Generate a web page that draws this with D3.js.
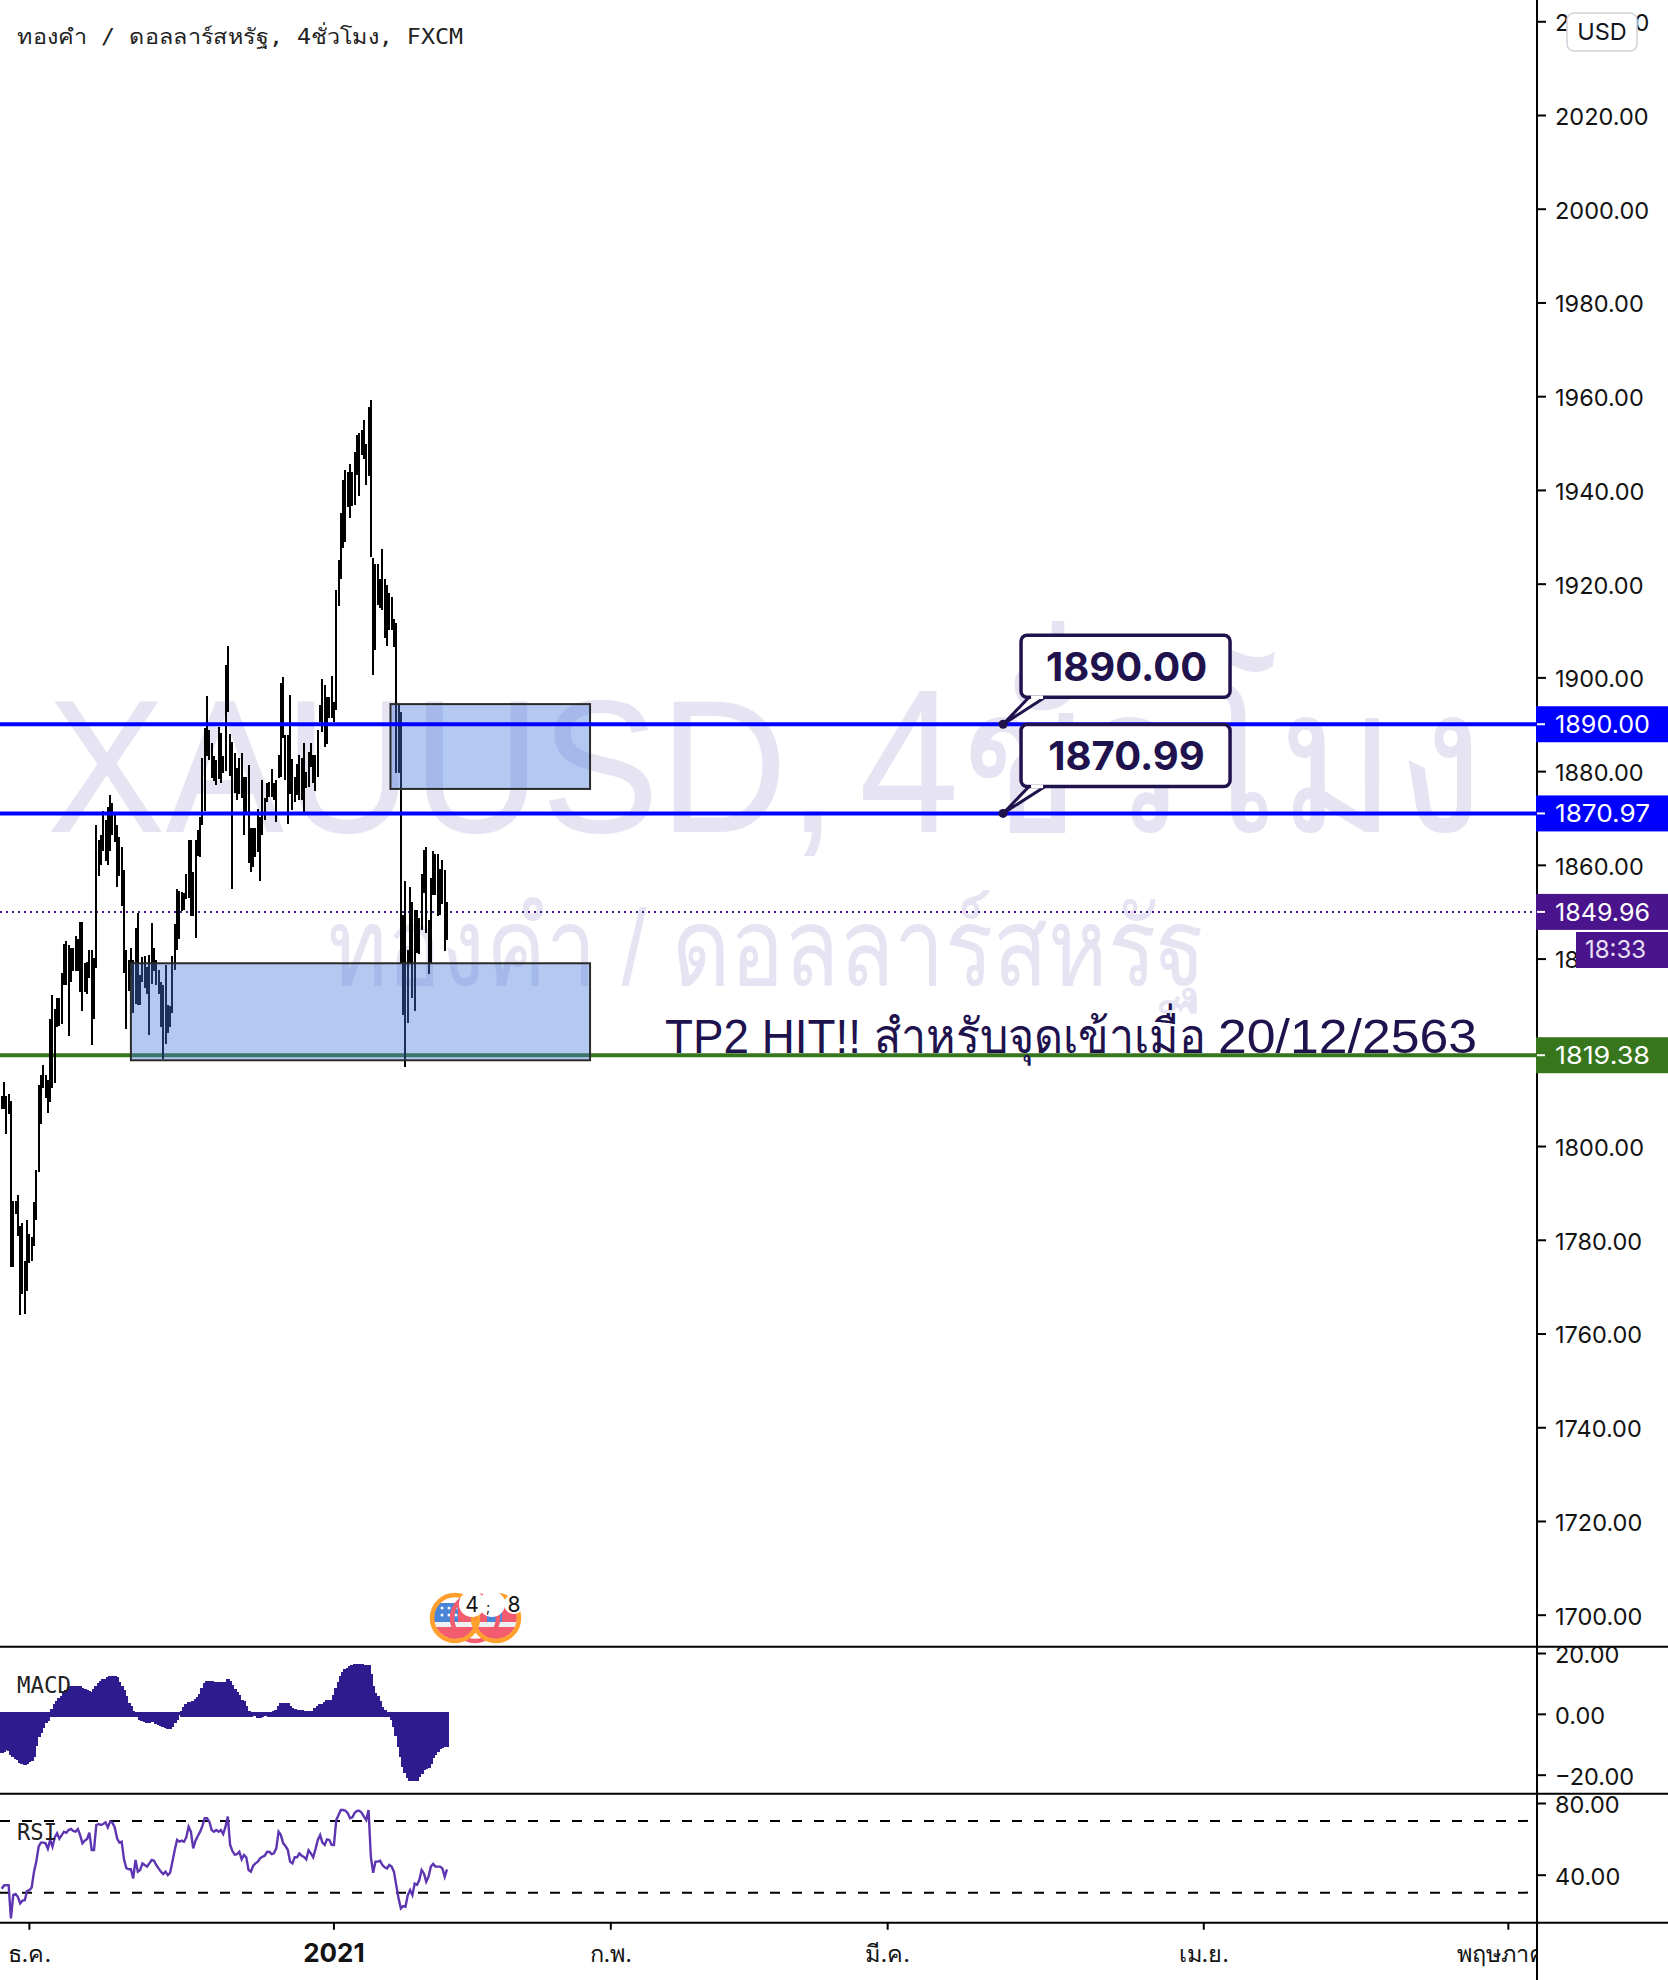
<!DOCTYPE html>
<html>
<head>
<meta charset="utf-8">
<script src="https://cdn.jsdelivr.net/npm/d3@7"></script>
<style>
html, body { margin: 0; padding: 0; background: #fff; }
svg { display: block; }
</style>
</head>
<body>
<div id="chart"></div>
<script>
// bar extents, the bodies are not legible at this density
var barHigh = [1810.6,1813.6,1810.6,1811.2,1809.6,1788.3,1788.2,1789.6,1783.0,1783.5,1775.4,1784.2,1781.3,1780.5,1788.0,1794.9,1813.1,1815.1,1817.2,1815.1,
  1814.0,1827.1,1832.2,1829.3,1831.6,1831.6,1837.0,1843.2,1843.7,1843.0,1842.2,1842.3,1844.8,1844.1,1847.7,1847.9,1839.0,1839.2,1841.9,1841.9,
  1840.1,1868.4,1865.4,1866.3,1871.5,1869.5,1872.4,1875.0,1873.2,1870.6,1868.4,1866.0,1863.9,1859.0,1841.9,1839.6,1842.3,1839.6,1846.6,1849.8,
  1836.5,1840.3,1840.5,1838.3,1840.8,1847.5,1842.3,1839.6,1837.6,1834.9,1834.3,1838.7,1830.0,1829.8,1840.6,1847.3,1854.9,1854.5,1854.2,1854.0,
  1858.1,1865.3,1865.3,1858.5,1865.3,1867.5,1870.2,1882.8,1889.1,1896.1,1888.8,1885.9,1883.2,1882.3,1889.5,1888.2,1883.2,1902.6,1906.7,1888.0,
  1886.3,1883.8,1880.6,1882.7,1883.9,1878.8,1878.8,1881.3,1867.8,1867.8,1867.8,1872.0,1870.3,1878.2,1874.2,1877.4,1877.7,1880.4,1877.4,1878.1,
  1883.4,1898.7,1900.0,1887.7,1887.8,1896.2,1882.5,1878.8,1881.6,1883.4,1882.7,1886.1,1879.9,1884.0,1885.9,1883.4,1883.4,1888.8,1894.1,1899.6,
  1898.4,1895.9,1895.9,1900.3,1894.8,1918.6,1925.0,1935.0,1942.1,1944.2,1943.9,1945.5,1943.9,1948.0,1951.8,1952.2,1952.8,1955.0,1949.9,1957.7,
  1959.2,1925.4,1924.3,1924.3,1920.9,1927.5,1920.9,1919.7,1917.9,1917.2,1912.4,1911.5,1894.4,1892.7,1849.3,1856.5,1841.8,1855.3,1852.1,1850.4,
  1850.4,1848.6,1858.0,1863.2,1863.9,1848.2,1857.1,1863.0,1862.4,1862.4,1859.2,1861.0,1858.9,1852.1];
var barLow = [1807.9,1807.9,1802.5,1806.9,1774.1,1774.1,1785.5,1780.8,1763.9,1768.4,1764.2,1769.1,1775.1,1775.4,1778.6,1784.2,1794.5,1804.7,1812.4,1810.3,
  1807.0,1809.3,1812.4,1813.4,1825.3,1825.7,1826.0,1834.3,1834.3,1823.5,1835.0,1837.4,1837.4,1837.4,1832.9,1828.9,1832.9,1832.5,1835.8,1821.5,
  1827.1,1837.9,1857.6,1859.9,1863.0,1860.9,1859.9,1863.0,1866.3,1864.8,1855.2,1857.6,1851.3,1837.0,1825.0,1833.1,1836.1,1828.4,1830.4,1830.2,
  1830.0,1835.0,1833.8,1832.5,1823.7,1834.5,1837.4,1834.3,1832.5,1825.3,1818.5,1821.7,1824.1,1825.3,1828.4,1837.6,1841.9,1844.1,1850.2,1850.4,
  1852.7,1852.9,1849.1,1849.1,1844.4,1861.8,1861.7,1868.4,1871.5,1883.2,1882.3,1878.6,1877.8,1877.1,1878.3,1877.4,1879.6,1880.1,1892.7,1879.0,
  1854.8,1875.3,1873.8,1875.2,1874.2,1866.4,1871.0,1860.3,1858.5,1859.6,1861.7,1862.8,1856.6,1866.4,1869.6,1873.5,1874.5,1874.5,1873.8,1869.2,
  1878.5,1878.8,1887.0,1878.1,1868.8,1875.2,1871.7,1873.5,1874.9,1873.8,1873.8,1871.3,1876.3,1876.7,1880.9,1877.4,1875.8,1878.8,1890.5,1888.4,
  1885.2,1885.8,1891.3,1891.3,1890.5,1893.0,1915.2,1921.1,1927.7,1928.9,1936.3,1934.1,1936.5,1936.8,1943.2,1938.7,1947.4,1946.5,1941.0,1942.9,
  1925.7,1900.5,1905.8,1915.4,1914.7,1914.4,1908.5,1906.7,1910.1,1910.1,1906.4,1879.5,1879.5,1839.0,1827.9,1816.9,1826.2,1839.0,1831.5,1828.9,
  1841.1,1841.0,1846.1,1853.9,1845.4,1836.7,1839.0,1853.6,1853.6,1849.1,1849.3,1851.6,1841.7,1844.0];

var macdHist = [-12.4,-11.9,-11.3,-11.6,-13.1,-13.7,-14.2,-14.8,-15.7,-16.1,-16.2,-16.0,-15.4,-14.9,-13.7,-10.1,-7.2,-5.7,-4.2,-2.4,
  -1.8,0,1.6,3.1,4.3,5.1,6.0,7.0,7.9,8.7,9.2,9.3,9.3,9.3,9.0,8.4,8.1,7.8,7.6,7.2,
  8.3,9.2,10.0,10.7,11.3,11.6,12.0,12.3,12.3,12.3,12.0,10.4,9.3,7.7,6.0,3.7,2.5,1.1,0.4,-0.5,
  -1.4,-1.9,-2.2,-2.5,-2.4,-2.3,-2.2,-2.7,-3.3,-3.6,-3.9,-4.2,-4.4,-4.5,-3.8,-2.6,-1.4,0,1.1,2.2,
  3.3,3.8,3.9,4.2,4.9,5.7,6.6,8.5,10.1,10.7,10.8,10.7,10.6,10.5,10.4,10.4,10.5,10.6,11.5,10.7,
  9.6,8.3,7.3,6.2,4.6,4.2,2.7,1.1,0.7,0.3,-0.1,-0.9,-1.0,-0.7,-0.1,0.2,0.4,0.7,0.9,1.2,
  2.7,3.5,3.6,3.7,3.5,2.7,2.0,1.5,1.4,1.3,1.2,1.1,1.1,1.1,1.1,1.1,1.8,2.5,3.3,3.4,
  3.8,4.4,4.4,4.4,6.2,8.5,10.4,12.3,13.9,14.8,15.1,15.6,16.0,16.4,16.4,16.4,16.3,16.1,16.0,15.9,
  13.1,9.3,6.9,5.8,4.2,2.4,1.4,0.5,-0.4,-1.5,-3.9,-6.9,-10.4,-13.7,-17.0,-18.9,-20.5,-21.6,-21.7,-21.7,
  -21.7,-20.4,-19.2,-18.0,-17.7,-17.2,-15.9,-13.9,-13.1,-12.0,-11.1,-10.6,-10.5,-10.4];

var rsiValues = [32.2,34.0,34.2,34.2,15.6,28.6,29.2,27.7,24.0,25.5,25.8,31.0,31.4,32.9,41.7,47.3,55.6,57.9,57.9,57.5,
  54.5,59.4,55.6,60.8,63.1,60.1,62.1,64.0,63.4,64.9,65.5,64.4,64.0,65.5,62.1,57.5,59.0,59.9,63.4,53.8,
  53.8,67.7,68.3,67.7,68.3,69.2,66.4,69.6,69.0,66.4,60.3,57.9,58.4,48.6,43.7,43.0,43.0,37.9,48.2,41.7,
  42.6,46.3,45.4,44.5,46.3,48.2,47.8,45.4,43.5,41.7,40.4,41.7,39.8,41.1,47.3,53.8,59.4,58.4,59.0,58.4,
  60.8,66.8,64.0,54.7,59.0,61.6,64.0,67.2,71.5,71.5,69.6,64.9,64.0,64.9,64.0,64.9,62.7,66.8,72.4,56.6,
  53.2,51.2,51.5,52.8,48.6,51.0,49.7,42.6,41.7,45.0,46.3,47.3,49.1,50.0,50.6,52.7,52.8,51.5,51.9,54.7,
  64.0,62.1,57.5,56.0,53.8,47.3,46.3,49.7,49.7,51.9,50.6,49.9,48.6,53.6,51.9,49.7,54.3,59.4,62.1,57.9,
  56.6,59.7,59.4,56.7,56.6,70.5,73.3,76.1,76.1,75.7,74.3,71.5,72.0,74.6,75.6,75.7,74.6,72.4,70.5,76.1,
  50.0,41.1,47.3,47.3,47.8,45.4,44.1,43.5,45.4,44.5,41.7,34.2,26.8,21.2,22.5,22.1,28.6,31.4,28.6,35.1,
  34.4,37.0,42.6,40.7,36.1,38.9,44.5,46.0,44.5,44.5,44.5,43.5,38.9,43.0];

var priceTicks = [2040,2020,2000,1980,1960,1940,1920,1900,1880,1860,1840,1820,1800,1780,1760,1740,1720,1700];
var macdTicks = [20,0,-20];
var rsiTicks = [80,40];
var rsiBands = [70,30];
var monthLabels = ["ธ.ค.","2021","ก.พ.","มี.ค.","เม.ย.","พฤษภาคม"];
var monthBars = [12,144,264,384,521,653];
var priceLevels = [
  {value: 1890, tag: "1890.00", color: "#0000ff"},
  {value: 1870.97, tag: "1870.97", color: "#0000ff"},
  {value: 1849.96, tag: "1849.96", color: "#4a148c"},
  {value: 1819.38, tag: "1819.38", color: "#38761d"}
];
var zones = [
  {bar0: 168.5, bar1: 255, top: 1894.3, bottom: 1876.2},
  {bar0: 56, bar1: 255, top: 1839.0, bottom: 1818.3}
];
var callouts = [
  {bar: 434, value: 1890, text: "1890.00"},
  {bar: 434, value: 1870.97, text: "1870.99"}
];

var width = 1668, height = 1980;
var axisX = 1537;
var uiFont = "Inter, 'Noto Sans', sans-serif";
var thaiFont = "'Liberation Sans', 'Noto Sans', sans-serif";
var monoFont = "'DejaVu Sans Mono', 'Liberation Mono', monospace";
var navy = "#20124d";
var watermark = "#e6e4f2";

var svg = d3.select("#chart").append("svg")
  .attr("width", width)
  .attr("height", height)
  .style("font-family", uiFont);

var x = d3.scaleLinear().domain([0, 193]).range([1.7, 447]);
var y = d3.scaleLinear().domain([1700, 2020]).range([1614.7, 115]);
var yMacd = d3.scaleLinear().domain([-20, 20]).range([1774.7, 1653]);
var yRsi = d3.scaleLinear().domain([40, 80]).range([1874.7, 1803]);

svg.append("defs").append("clipPath").attr("id", "paneClip")
  .append("rect").attr("x", 0).attr("y", 0).attr("width", axisX).attr("height", height);

// watermarks
svg.append("text")
  .text("XAUUSD,")
  .attr("x", 47).attr("y", 832)
  .attr("textLength", 790).attr("lengthAdjust", "spacingAndGlyphs")
  .style("font-family", thaiFont).style("font-size", "190px").style("fill", watermark);
svg.append("text")
  .text("4ชั่วโมง")
  .attr("x", 859).attr("y", 832)
  .attr("textLength", 625).attr("lengthAdjust", "spacingAndGlyphs")
  .style("font-family", thaiFont).style("font-size", "205px").style("fill", watermark);
svg.append("text")
  .text("ทองคำ / ดอลลาร์สหรัฐ")
  .attr("x", 328).attr("y", 985)
  .attr("textLength", 878).attr("lengthAdjust", "spacingAndGlyphs")
  .style("font-family", thaiFont).style("font-size", "108px").style("fill", watermark);

// green level sits under the bars, the blue ones over the zones
svg.append("line")
  .attr("x1", 0).attr("x2", axisX)
  .attr("y1", y(priceLevels[3].value)).attr("y2", y(priceLevels[3].value))
  .style("stroke", priceLevels[3].color).style("stroke-width", 4);
svg.append("line")
  .attr("x1", 0).attr("x2", axisX)
  .attr("y1", y(priceLevels[2].value)).attr("y2", y(priceLevels[2].value))
  .style("stroke", priceLevels[2].color).style("stroke-width", 2)
  .style("stroke-dasharray", "2 4");

// price bars
svg.append("g").selectAll("line")
  .data(barHigh)
  .enter().append("line")
  .attr("x1", function(d, i) { return Math.round(x(i)); })
  .attr("x2", function(d, i) { return Math.round(x(i)); })
  .attr("y1", function(d) { return y(d); })
  .attr("y2", function(d, i) { return y(barLow[i]); })
  .attr("shape-rendering", "crispEdges")
  .style("stroke", "#000").style("stroke-width", 2);

// zones
svg.append("g").selectAll("rect")
  .data(zones)
  .enter().append("rect")
  .attr("x", function(d) { return x(d.bar0); })
  .attr("y", function(d) { return y(d.top); })
  .attr("width", function(d) { return x(d.bar1) - x(d.bar0); })
  .attr("height", function(d) { return y(d.bottom) - y(d.top); })
  .style("fill", "#4277dc").style("fill-opacity", 0.4)
  .style("stroke", "#2a2a2a").style("stroke-width", 2);

[priceLevels[0], priceLevels[1]].forEach(function(l) {
  svg.append("line")
    .attr("x1", 0).attr("x2", axisX)
    .attr("y1", y(l.value)).attr("y2", y(l.value))
    .style("stroke", l.color).style("stroke-width", 4);
});

// note under the callouts, three runs so latin, thai and date each keep their width
[["TP2 HIT!!", 665, 196], ["สำหรับจุดเข้าเมื่อ", 874, 332], ["20/12/2563", 1218, 259]].forEach(function(run) {
  svg.append("text")
    .text(run[0])
    .attr("x", run[1]).attr("y", 1053)
    .attr("textLength", run[2]).attr("lengthAdjust", "spacingAndGlyphs")
    .style("font-family", thaiFont).style("font-size", "48px").style("fill", navy);
});

// callouts
callouts.forEach(function(c) {
  var px = x(c.bar), py = y(c.value);
  var boxTop = py - 89, boxBottom = py - 27, boxLeft = px + 18, boxRight = px + 227;
  var g = svg.append("g");
  g.append("path")
    .attr("d", "M" + px + "," + py + "L" + (boxLeft + 8) + "," + boxBottom + "L" + (boxLeft + 24) + "," + boxBottom + "Z")
    .style("fill", "#fff").style("stroke", navy).style("stroke-width", 3);
  g.append("rect")
    .attr("x", boxLeft).attr("y", boxTop)
    .attr("width", boxRight - boxLeft).attr("height", boxBottom - boxTop)
    .attr("rx", 6)
    .style("fill", "#fff").style("stroke", navy).style("stroke-width", 3.5);
  // hide the seam where the tail meets the box
  g.append("line")
    .attr("x1", boxLeft + 10).attr("x2", boxLeft + 22)
    .attr("y1", boxBottom).attr("y2", boxBottom)
    .style("stroke", "#fff").style("stroke-width", 3.5);
  g.append("circle").attr("cx", px).attr("cy", py).attr("r", 4.5).style("fill", navy);
  g.append("text")
    .text(c.text)
    .attr("x", (boxLeft + boxRight) / 2 + 1).attr("y", boxBottom - 16)
    .attr("text-anchor", "middle")
    .style("font-size", "40px").style("font-weight", 700).style("fill", navy);
});

// MACD histogram
svg.append("g").selectAll("rect")
  .data(macdHist)
  .enter().append("rect")
  .attr("x", function(d, i) { return Math.round(x(i)) - 2; })
  .attr("width", 4)
  .attr("y", function(d) { return Math.min(yMacd(d), yMacd(0) - 1.5); })
  .attr("height", function(d) { return Math.abs(yMacd(d) - yMacd(0)) + 3; })
  .attr("shape-rendering", "crispEdges")
  .style("fill", "#2e1c8e");

// RSI
svg.append("g").selectAll("line")
  .data(rsiBands)
  .enter().append("line")
  .attr("x1", 0).attr("x2", 1528)
  .attr("y1", function(d) { return yRsi(d); })
  .attr("y2", function(d) { return yRsi(d); })
  .style("stroke", "#000").style("stroke-width", 2)
  .style("stroke-dasharray", "10 12");
svg.append("path")
  .datum(rsiValues)
  .attr("d", d3.line().x(function(d, i) { return x(i); }).y(function(d) { return yRsi(d); }))
  .style("fill", "none").style("stroke", "#5e35b1").style("stroke-width", 2.4);

// pane titles
svg.append("text").text("ทองคำ / ดอลลาร์สหรัฐ, 4ชั่วโมง, FXCM")
  .attr("x", 17).attr("y", 44)
  .attr("textLength", 446).attr("lengthAdjust", "spacingAndGlyphs")
  .style("font-family", monoFont).style("font-size", "21px").style("fill", "#222");
svg.append("text").text("MACD").attr("x", 17).attr("y", 1693)
  .attr("textLength", 54).attr("lengthAdjust", "spacingAndGlyphs")
  .style("font-family", monoFont).style("font-size", "23px").style("fill", "#222");
svg.append("text").text("RSI").attr("x", 17).attr("y", 1840)
  .attr("textLength", 40).attr("lengthAdjust", "spacingAndGlyphs")
  .style("font-family", monoFont).style("font-size", "23px").style("fill", "#222");

// frame
[1646.7, 1793.7, 1922.7].forEach(function(py) {
  svg.append("line").attr("x1", 0).attr("x2", width).attr("y1", py).attr("y2", py)
    .style("stroke", "#000").style("stroke-width", 2);
});
svg.append("line").attr("x1", axisX).attr("x2", axisX).attr("y1", 0).attr("y2", height)
  .style("stroke", "#000").style("stroke-width", 2);

// right axes
function drawAxis(scale, ticks) {
  var g = svg.append("g")
    .attr("transform", "translate(" + axisX + ",0)")
    .call(d3.axisRight(scale).tickValues(ticks).tickSize(9).tickPadding(9)
      .tickFormat(function(d) { return d < 0 ? "\u2212" + d3.format(".2f")(-d) : d3.format(".2f")(d); }));
  g.select(".domain").remove();
  g.selectAll("line").style("stroke", "#000").style("stroke-width", 2);
  g.selectAll("text")
    .attr("dy", "0.4em")
    .style("font-family", uiFont).style("font-size", "23.5px").style("fill", "#131313");
}
drawAxis(y, priceTicks);
drawAxis(yMacd, macdTicks);
drawAxis(yRsi, rsiTicks);

// price tags
var tags = svg.append("g").selectAll("g")
  .data(priceLevels)
  .enter().append("g")
  .attr("transform", function(d) { return "translate(" + axisX + "," + y(d.value) + ")"; });
tags.append("rect")
  .attr("x", -1).attr("y", -18).attr("width", width - axisX + 1).attr("height", 36)
  .style("fill", function(d) { return d.color; });
tags.append("line")
  .attr("x1", 0).attr("x2", 8).attr("y1", 0).attr("y2", 0)
  .style("stroke", "#fff").style("stroke-width", 2);
tags.append("text")
  .text(function(d) { return d.tag; })
  .attr("x", 18).attr("y", 9)
  .attr("textLength", 95).attr("lengthAdjust", "spacingAndGlyphs")
  .style("font-size", "24.5px").style("fill", "#fff");

// countdown under the last price
svg.append("rect")
  .attr("x", 1576).attr("y", 932).attr("width", 92).attr("height", 36)
  .style("fill", "#4a148c");
svg.append("text").text("18:33")
  .attr("x", 1585).attr("y", 958)
  .style("font-size", "24px").style("fill", "#e8e0f5");

// currency button
svg.append("rect")
  .attr("x", 1567).attr("y", 13).attr("width", 70).attr("height", 38).attr("rx", 7)
  .style("fill", "#fff").style("stroke", "#d1d4dc").style("stroke-width", 1.5);
svg.append("text").text("USD")
  .attr("x", 1602).attr("y", 40).attr("text-anchor", "middle")
  .style("font-size", "23.5px").style("fill", "#131722");

// bottom axis
var gx = svg.append("g")
  .attr("transform", "translate(0,1922.7)")
  .attr("clip-path", "url(#paneClip)");
gx.selectAll("line")
  .data(monthBars)
  .enter().append("line")
  .attr("x1", function(d) { return x(d); })
  .attr("x2", function(d) { return x(d); })
  .attr("y1", 0).attr("y2", 7)
  .style("stroke", "#000").style("stroke-width", 2);
gx.selectAll("text")
  .data(monthLabels)
  .enter().append("text")
  .text(function(d) { return d; })
  .attr("x", function(d, i) { return x(monthBars[i]); })
  .attr("y", 39)
  .attr("text-anchor", "middle")
  .style("font-size", function(d) { return d == "2021" ? "26px" : "23.5px"; })
  .style("font-weight", function(d) { return d == "2021" ? 700 : 400; })
  .style("fill", "#131313");

// economic event badges at the bottom of the price pane
var badges = svg.append("g");
var flagClip = svg.select("defs").append("clipPath").attr("id", "flagClip");
[455, 496].forEach(function(cx) {
  flagClip.append("circle").attr("cx", cx).attr("cy", 1618).attr("r", 21);
});
var flag = badges.append("g").attr("clip-path", "url(#flagClip)");
flag.append("rect").attr("x", 430).attr("y", 1603).attr("width", 90).attr("height", 36).style("fill", "#f25c6e");
flag.append("rect").attr("x", 430).attr("y", 1622).attr("width", 90).attr("height", 5).style("fill", "#eef0f4");
flag.append("rect").attr("x", 430).attr("y", 1603).attr("width", 28).attr("height", 19).style("fill", "#4a86d8");
flag.append("rect").attr("x", 487).attr("y", 1603).attr("width", 15).attr("height", 19).style("fill", "#4a86d8");
[[442, 1608], [449, 1608], [456, 1608], [442, 1615], [449, 1615], [456, 1615], [492, 1615], [498, 1615]].forEach(function(s) {
  flag.append("circle").attr("cx", s[0]).attr("cy", s[1]).attr("r", 1.5).style("fill", "#fff");
});
[[475, "#f25c6e"], [496, "#ff9f2e"], [455, "#ff9f2e"]].forEach(function(r) {
  badges.append("circle")
    .attr("cx", r[0]).attr("cy", 1618).attr("r", 23)
    .style("fill", "none").style("stroke", r[1]).style("stroke-width", 4.5);
});
[[472, 1604, 13], [492, 1604, 13], [514, 1604, 10]].forEach(function(b) {
  badges.append("circle").attr("cx", b[0]).attr("cy", b[1]).attr("r", b[2]).style("fill", "#fff");
});
[["4", 472, 21], [";", 488, 14], ["8", 514, 21]].forEach(function(t) {
  badges.append("text").text(t[0])
    .attr("x", t[1]).attr("y", 1612).attr("text-anchor", "middle")
    .style("font-size", t[2] + "px").style("fill", "#111");
});
</script>
</body>
</html>
